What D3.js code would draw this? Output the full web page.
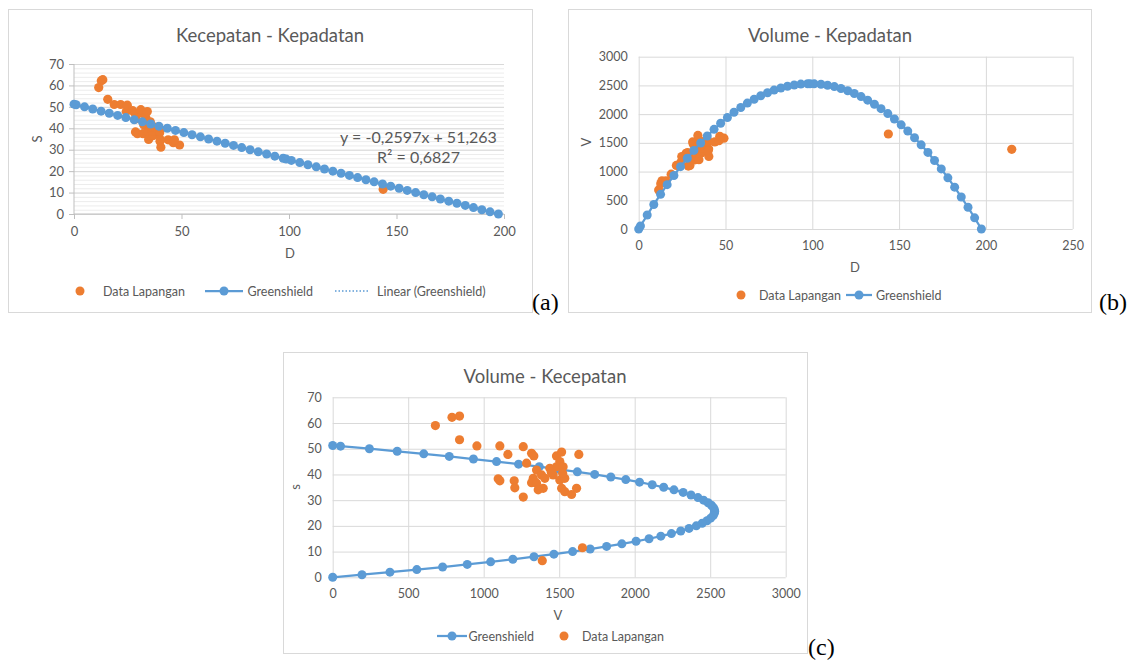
<!DOCTYPE html>
<html>
<head>
<meta charset="utf-8">
<script src="https://cdn.jsdelivr.net/npm/d3@7"></script>
<style>
  body { margin: 0; background: #fff; }
  text { font-family: Lato, "Open Sans", sans-serif; }
</style>
</head>
<body>
<svg id="chart"></svg>
<script>
// Greenshield model points (density D, speed S, volume V)
var greenD = [0, 1.0, 4.9, 8.7, 12.6, 16.4, 20.3, 24.1, 28.0, 31.8,
              35.7, 39.5, 43.4, 47.2, 51.1, 54.9, 58.8, 62.6, 66.5, 70.3,
              74.2, 78.0, 81.9, 85.7, 89.6, 93.4, 97.3, 98.7, 101.1, 105.0,
              108.8, 112.7, 116.5, 120.4, 124.2, 128.1, 131.9, 135.8, 139.6, 143.5,
              147.3, 151.2, 155.0, 158.9, 162.7, 166.6, 170.4, 174.3, 178.1, 182.0,
              185.8, 189.7, 193.5, 197.4];
var greenS = [51.26, 51, 50, 49, 48, 47, 46, 45, 44, 43,
              42, 41, 40, 39, 38, 37, 36, 35, 34, 33,
              32, 31, 30, 29, 28, 27, 26, 25.63, 25, 24,
              23, 22, 21, 20, 19, 18, 17, 16, 15, 14,
              13, 12, 11, 10, 9, 8, 7, 6, 5, 4,
              3, 2, 1, 0];
var greenV = [0, 52, 243, 427, 603, 772, 932, 1085, 1231, 1368,
              1498, 1620, 1735, 1842, 1941, 2032, 2116, 2192, 2260, 2321,
              2373, 2419, 2456, 2486, 2508, 2523, 2529, 2530, 2528, 2520,
              2503, 2479, 2447, 2408, 2360, 2305, 2243, 2173, 2095, 2009,
              1915, 1814, 1705, 1589, 1465, 1333, 1193, 1046, 891, 728,
              557, 379, 194, 0];

// Field data (Data Lapangan)
var fieldD = [11.5, 12.7, 13.4, 15.7, 18.7, 21.7, 24.3, 24.8, 27.3, 28.2,
              28.9, 28.6, 29.5, 32.1, 34.7, 40.4, 31.4, 31.1, 33.4, 34.1,
              34.5, 35.5, 32.4, 34.7, 33.9, 36.7, 34.5, 35.8, 36.9, 40.3,
              36.5, 39.8, 39.9, 43.8, 46.2, 49.1, 46.7, 40.0, 37.6, 35.5,
              143.8, 214.9];
var fieldS = [59.0, 62.2, 62.7, 53.5, 51.1, 51.1, 47.8, 50.8, 48.2, 47.2,
              44.4, 38.3, 37.5, 37.5, 34.8, 31.2, 47.2, 48.7, 45.0, 47.8,
              43.0, 43.0, 41.7, 39.8, 42.4, 39.8, 38.5, 36.8, 36.6, 34.6,
              38.5, 37.8, 38.5, 34.6, 33.3, 32.2, 34.6, 34.0, 40.5, 40.8,
              11.5, 6.46];
var fieldV = [680, 790, 840, 840, 955, 1107, 1160, 1262, 1317, 1332,
              1284, 1096, 1107, 1202, 1206, 1262, 1482, 1516, 1504, 1630,
              1482, 1526, 1350, 1383, 1438, 1460, 1328, 1317, 1350, 1394,
              1405, 1504, 1537, 1516, 1537, 1582, 1615, 1361, 1523, 1448,
              1654, 1388];

// Linear trendline shown on chart (a)
var trendSlope = -0.2597;
var trendIntercept = 51.263;
var trendLabel = ["y = -0,2597x + 51,263", "R\u00b2 = 0,6827"];

// Tick values
var ticksDa = [0, 50, 100, 150, 200];
var ticksS = [0, 10, 20, 30, 40, 50, 60, 70];
var ticksDb = [0, 50, 100, 150, 200, 250];
var ticksV = [0, 500, 1000, 1500, 2000, 2500, 3000];

var blue = "#5b9bd5", orange = "#ed7d31", gridCol = "#d9d9d9", txt = "#595959";
var fmt = d3.format("d");

var green = greenD.map(function(d, i) { return {D: d, S: greenS[i], V: greenV[i]}; });
var field = fieldD.map(function(d, i) { return {D: d, S: fieldS[i], V: fieldV[i]}; });

var svg = d3.select("#chart").attr("width", 1137).attr("height", 662);
svg.append("rect").attr("width", 1137).attr("height", 662).attr("fill", "#fff");

function frame(x0, y0, x1, y1) {
    svg.append("rect")
        .attr("x", x0 + 0.5).attr("y", y0 + 0.5)
        .attr("width", x1 - x0).attr("height", y1 - y0)
        .attr("fill", "#fff").attr("stroke", gridCol);
}

function label(s, x, y, size, opts) {
    opts = opts || {};
    var t = svg.append("text")
        .attr("x", x).attr("y", y)
        .attr("fill", opts.fill || txt)
        .attr("font-size", size)
        .attr("text-anchor", opts.anchor || "middle")
        .attr("dominant-baseline", "central")
        .text(s);
    if (opts.rotate) t.attr("transform", "rotate(-90," + x + "," + y + ")");
    if (opts.family) t.style("font-family", opts.family);
    return t;
}

function styleAxis(g, size) {
    g.select(".domain").remove();
    g.selectAll("text").attr("fill", txt).attr("font-size", size)
        .style("font-family", "Lato, 'Open Sans', sans-serif");
}

function dots(data, x, y, xk, yk, color, r) {
    svg.append("g").selectAll("circle")
        .data(data).enter().append("circle")
        .attr("cx", function(d) { return x(d[xk]); })
        .attr("cy", function(d) { return y(d[yk]); })
        .attr("r", r)
        .attr("fill", color);
}

function line(data, x, y, xk, yk) {
    svg.append("path")
        .datum(data)
        .attr("fill", "none")
        .attr("stroke", blue)
        .attr("stroke-width", 2.25)
        .attr("d", d3.line()
            .x(function(d) { return x(d[xk]); })
            .y(function(d) { return y(d[yk]); }));
}

function legendDot(cx, cy) {
    svg.append("circle").attr("cx", cx).attr("cy", cy).attr("r", 4.5).attr("fill", orange);
}
function legendLine(x0, x1, cy) {
    svg.append("line").attr("x1", x0).attr("x2", x1).attr("y1", cy).attr("y2", cy)
        .attr("stroke", blue).attr("stroke-width", 2.25);
    svg.append("circle").attr("cx", (x0 + x1) / 2).attr("cy", cy).attr("r", 4.5).attr("fill", blue);
}

// ---------- (a) Kecepatan - Kepadatan ----------
frame(8, 9, 532, 312);
var xa = d3.scaleLinear().domain([0, 200]).range([74, 504]);
var ya = d3.scaleLinear().domain([0, 70]).range([214, 64]);

// minor + major horizontal gridlines
svg.append("g").attr("transform", "translate(74,0)")
    .call(d3.axisLeft(ya).ticks(35).tickSize(-430).tickFormat(""))
    .call(function(g) {
        g.select(".domain").remove();
        g.selectAll("line").attr("stroke", "#ececec");
    });
svg.append("g").attr("transform", "translate(74,0)")
    .call(d3.axisLeft(ya).tickValues(ticksS).tickSize(-430).tickFormat(""))
    .call(function(g) {
        g.select(".domain").remove();
        g.selectAll("line").attr("stroke", gridCol);
    });
// axis lines
svg.append("line").attr("x1", 74).attr("x2", 74).attr("y1", 64).attr("y2", 214).attr("stroke", "#bfbfbf");
svg.append("line").attr("x1", 74).attr("x2", 504).attr("y1", 214).attr("y2", 214).attr("stroke", "#bfbfbf");
svg.append("g").attr("transform", "translate(74,0)")
    .call(d3.axisLeft(ya).tickValues(ticksS).tickSize(5).tickPadding(5).tickFormat(fmt))
    .call(function(g) { styleAxis(g, 13); g.selectAll("line").attr("stroke", "#bfbfbf"); });
svg.append("g").attr("transform", "translate(0,214)")
    .call(d3.axisBottom(xa).tickValues(ticksDa).tickSize(5).tickPadding(8).tickFormat(fmt))
    .call(function(g) { styleAxis(g, 13); g.selectAll("line").attr("stroke", "#bfbfbf"); });

dots(field.filter(function(d) { return d.D <= 200; }), xa, ya, "D", "S", orange, 4.6);
line(green, xa, ya, "D", "S");
dots(green, xa, ya, "D", "S", blue, 4.5);
var dExt = d3.extent(greenD);
svg.append("line")
    .attr("x1", xa(dExt[0])).attr("y1", ya(trendIntercept + trendSlope * dExt[0]))
    .attr("x2", xa(dExt[1])).attr("y2", ya(trendIntercept + trendSlope * dExt[1]))
    .attr("stroke", blue).attr("stroke-width", 1.5).attr("stroke-dasharray", "1.5,2");

label("Kecepatan - Kepadatan", 270, 35, 18.5);
label(trendLabel[0], 418.5, 136, 16);
label(trendLabel[1], 418.5, 156, 16);
label("D", 290, 253, 13);
label("S", 37, 139, 13, {rotate: true});

legendDot(80, 291);
label("Data Lapangan", 103, 291, 12.5, {anchor: "start"});
legendLine(205, 243, 291);
label("Greenshield", 247.5, 291, 12.5, {anchor: "start"});
svg.append("line").attr("x1", 335).attr("x2", 370).attr("y1", 291).attr("y2", 291)
    .attr("stroke", blue).attr("stroke-width", 1.5).attr("stroke-dasharray", "1.5,2");
label("Linear (Greenshield)", 377, 291, 12.5, {anchor: "start"});
label("(a)", 532, 302, 24, {anchor: "start", fill: "#000", family: "'Liberation Serif', serif"});

// ---------- (b) Volume - Kepadatan ----------
frame(568, 9, 1091, 312);
var xb = d3.scaleLinear().domain([0, 250]).range([638.7, 1072.7]);
var yb = d3.scaleLinear().domain([0, 3000]).range([229, 56.7]);

svg.append("g").attr("transform", "translate(638.7,0)")
    .call(d3.axisLeft(yb).tickValues(ticksV).tickSize(-434).tickPadding(11).tickFormat(fmt))
    .call(function(g) { styleAxis(g, 12.5); g.selectAll("line").attr("stroke", gridCol); });
svg.append("g").attr("transform", "translate(0,229)")
    .call(d3.axisBottom(xb).tickValues(ticksDb).tickSize(-172.3).tickPadding(12).tickFormat(fmt))
    .call(function(g) { styleAxis(g, 12.5); g.selectAll("line").attr("stroke", gridCol); });

dots(field, xb, yb, "D", "V", orange, 4.6);
line(green, xb, yb, "D", "V");
dots(green, xb, yb, "D", "V", blue, 4.5);

label("Volume - Kepadatan", 830, 35, 18.5);
label("D", 855, 267, 13);
label("V", 586, 142, 13, {rotate: true});
legendDot(741, 295);
label("Data Lapangan", 759, 295, 12.5, {anchor: "start"});
legendLine(846, 872, 295);
label("Greenshield", 876, 295, 12.5, {anchor: "start"});
label("(b)", 1099, 302, 24, {anchor: "start", fill: "#000", family: "'Liberation Serif', serif"});

// ---------- (c) Volume - Kecepatan ----------
frame(283, 352, 807, 653);
var xc = d3.scaleLinear().domain([0, 3000]).range([332.7, 785.7]);
var yc = d3.scaleLinear().domain([0, 70]).range([577.3, 397.3]);

svg.append("g").attr("transform", "translate(332.7,0)")
    .call(d3.axisLeft(yc).tickValues(ticksS).tickSize(-453).tickPadding(11).tickFormat(fmt))
    .call(function(g) { styleAxis(g, 12.5); g.selectAll("line").attr("stroke", gridCol); });
svg.append("g").attr("transform", "translate(0,577.3)")
    .call(d3.axisBottom(xc).tickValues(ticksV).tickSize(-180).tickPadding(12).tickFormat(fmt))
    .call(function(g) { styleAxis(g, 12.5); g.selectAll("line").attr("stroke", gridCol); });

line(green, xc, yc, "V", "S");
dots(green, xc, yc, "V", "S", blue, 4.5);
dots(field, xc, yc, "V", "S", orange, 4.6);

label("Volume - Kecepatan", 545, 376, 18.5);
label("V", 558, 615, 13);
label("s", 295, 487, 13, {rotate: true});
legendLine(437, 467, 636);
label("Greenshield", 468.5, 636, 12.5, {anchor: "start"});
legendDot(564, 636);
label("Data Lapangan", 582, 636, 12.5, {anchor: "start"});
label("(c)", 808, 647, 24, {anchor: "start", fill: "#000", family: "'Liberation Serif', serif"});
</script>
</body>
</html>
